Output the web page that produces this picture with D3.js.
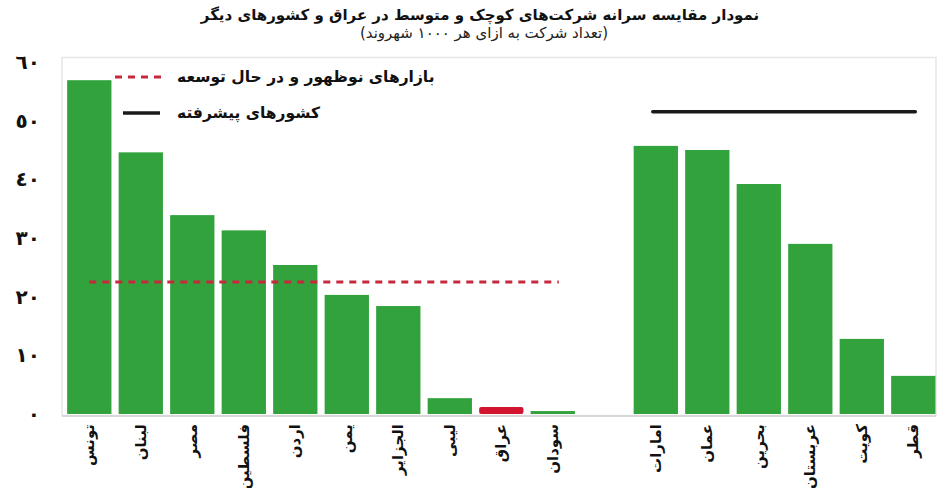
<!DOCTYPE html>
<html>
<head>
<meta charset="utf-8">
<script src="https://cdn.jsdelivr.net/npm/d3@7"></script>
<style>
  body { margin: 0; background: #fff; }
  svg { display: block; font-family: "DejaVu Sans", sans-serif; }
</style>
</head>
<body>
<svg id="chart" width="938" height="488"></svg>
<script>
// countries, the empty slot "" splits the two groups
const COUNTRIES = ['تونس','لبنان','مصر','فلسطین','اردن','یمن','الجزایر','لیبی','عراق','سودان','',
                   'امارات','عمان','بحرین','عربستان','کویت','قطر']
const VALUES = [56.9, 44.6, 33.9, 31.3, 25.4, 20.3, 18.4, 2.7, 1.2, 0.5, null,
                45.7, 45.0, 39.2, 29.0, 12.8, 6.5]
const HIGHLIGHT = 'عراق'
const EMERGING_AVG = 22.5
const ADVANCED_AVG = 51.5
const EMERGING_GROUP = ['تونس','سودان']
const ADVANCED_GROUP = ['امارات','قطر']
const Y_TICKS = [0, 10, 20, 30, 40, 50, 60]

const TITLE = 'نمودار مقایسه سرانه شرکت‌های کوچک و متوسط در عراق و کشورهای دیگر'
const SUBTITLE = '(تعداد شرکت به ازای هر ۱۰۰۰ شهروند)'
const LEGEND = ['بازارهای نوظهور و در حال توسعه', 'کشورهای پیشرفته']

const toArabicDigits = n => String(n).replace(/\d/g, c => '٠١٢٣٤٥٦٧٨٩'[c])

const svg = d3.select('#chart')
const data = COUNTRIES.map((c, i) => ({ name: c, value: VALUES[i] }))

const xScale = d3.scaleBand()
  .domain(COUNTRIES.map((c, i) => i))
  .range([62, 940.6])
  .paddingInner(0.14)
  .paddingOuter(0.1)
const yScale = d3.scaleLinear()
  .domain([0, 60])
  .range([414, 62])

const idx = name => COUNTRIES.indexOf(name)
const cx = name => xScale(idx(name)) + xScale.bandwidth() / 2

// light frame
svg.append('rect')
  .attr('x', 62).attr('y', 57.5)
  .attr('width', 874).attr('height', 358)
  .attr('fill', 'none')
  .attr('stroke', '#e6e6e6')
  .attr('stroke-width', 1.5)

// bars
svg.selectAll('rect.bar')
  .data(data.filter(d => d.value != null))
  .enter()
  .append('rect')
  .attr('class', 'bar')
  .attr('x', d => xScale(idx(d.name)))
  .attr('width', xScale.bandwidth())
  .attr('y', d => yScale(d.value))
  .attr('height', d => yScale(0) - yScale(d.value))
  .attr('rx', d => d.name == HIGHLIGHT ? 2 : 0)
  .style('fill', d => d.name == HIGHLIGHT ? '#d2142e' : '#31a23c')

// baseline
svg.append('line')
  .attr('x1', 62).attr('x2', 936)
  .attr('y1', 416).attr('y2', 416)
  .attr('stroke', '#d8d8d8')
  .attr('stroke-width', 2)

// average lines
svg.append('line')
  .attr('x1', cx(EMERGING_GROUP[0]))
  .attr('x2', cx(EMERGING_GROUP[1]) + 6)
  .attr('y1', yScale(EMERGING_AVG)).attr('y2', yScale(EMERGING_AVG))
  .attr('stroke', '#c8283c')
  .attr('stroke-width', 3)
  .attr('stroke-dasharray', '7,6')
svg.append('line')
  .attr('x1', cx(ADVANCED_GROUP[0]) - 3)
  .attr('x2', cx(ADVANCED_GROUP[1]) + 2)
  .attr('y1', yScale(ADVANCED_AVG)).attr('y2', yScale(ADVANCED_AVG))
  .attr('stroke', '#1a1a1a')
  .attr('stroke-width', 3.5)
  .attr('stroke-linecap', 'round')

// y axis, persian digits
const yAxis = d3.axisLeft(yScale)
  .tickValues(Y_TICKS)
  .tickSize(0)
  .tickPadding(0)
  .tickFormat(toArabicDigits)
svg.append('g')
  .attr('transform', 'translate(40,0)')
  .call(yAxis)
  .call(g => g.select('.domain').remove())
  .selectAll('text')
  .attr('font-family', '"DejaVu Sans", sans-serif')
  .attr('font-size', 20)
  .attr('font-weight', 'bold')
  .attr('fill', '#111')

// x labels rotated
svg.append('g')
  .selectAll('text')
  .data(data.filter(d => d.name != ''))
  .enter()
  .append('text')
  .attr('transform', d => `translate(${cx(d.name) + 5},424) rotate(-90)`)
  .attr('text-anchor', 'end')
  .attr('font-size', 15)
  .attr('font-weight', 'bold')
  .attr('fill', '#111')
  .text(d => d.name)

// title
svg.append('text')
  .attr('x', 480).attr('y', 20)
  .attr('text-anchor', 'middle')
  .attr('direction', 'rtl')
  .attr('font-size', 15)
  .attr('font-weight', 'bold')
  .attr('fill', '#111')
  .text(TITLE)
svg.append('text')
  .attr('x', 484).attr('y', 38)
  .attr('text-anchor', 'middle')
  .attr('direction', 'rtl')
  .attr('font-size', 15)
  .attr('fill', '#222')
  .text(SUBTITLE)

// legend
const legend = svg.append('g')
legend.append('line')
  .attr('x1', 115).attr('x2', 163)
  .attr('y1', 77).attr('y2', 77)
  .attr('stroke', '#c8283c')
  .attr('stroke-width', 3)
  .attr('stroke-dasharray', '7,6')
legend.append('line')
  .attr('x1', 123).attr('x2', 160)
  .attr('y1', 113).attr('y2', 113)
  .attr('stroke', '#1a1a1a')
  .attr('stroke-width', 3.5)
legend.selectAll('text')
  .data(LEGEND)
  .enter()
  .append('text')
  .attr('x', 177)
  .attr('y', (d, i) => 82 + i * 36)
  .attr('font-size', 15.5)
  .attr('font-weight', 'bold')
  .attr('fill', '#111')
  .text(d => d)
</script>
</body>
</html>
